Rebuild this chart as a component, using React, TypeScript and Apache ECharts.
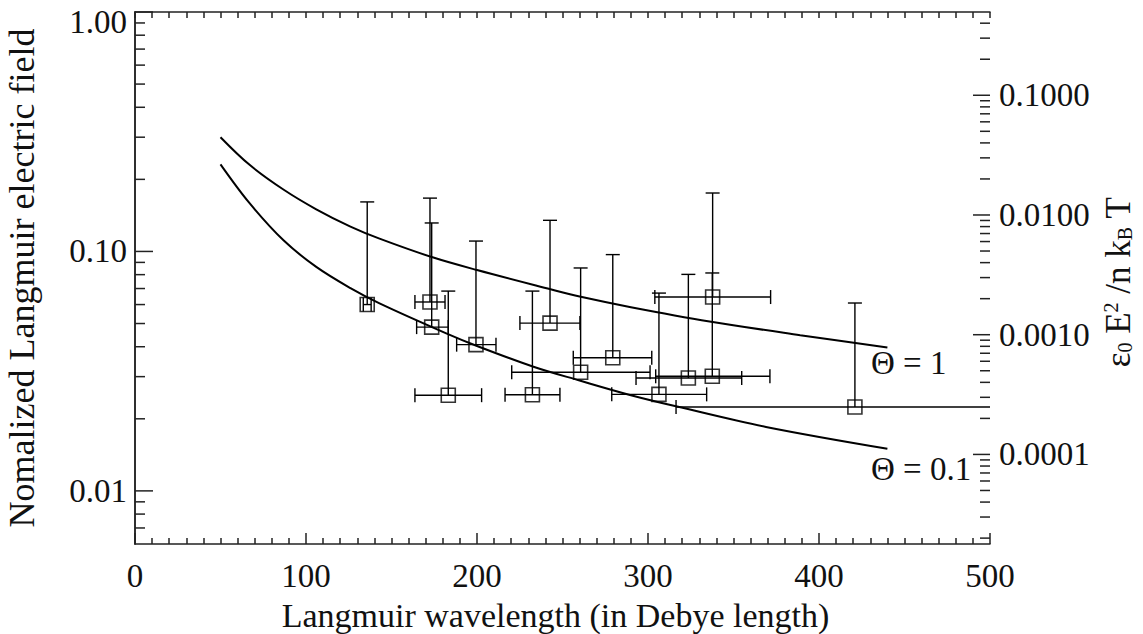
import React, { useEffect, useRef } from 'react';
import * as echarts from 'echarts';

const SERIF = '"Liberation Serif", "Times New Roman", Times, serif';

// Axis ranges
const X_MIN = 0;
const X_MAX = 500;
const X_STEP = 100;
const E_MIN = 0.006; // normalized field (left, log)
const E_MAX = 1.0;
const W_MIN = 1.786e-5; // eps0 E^2 / n kB T (right, log)
const W_MAX = 0.496;

// Theory curves
const theta1X = [50, 67, 87, 106, 126, 143, 174, 200, 243, 260, 290, 336, 389, 440];
const theta1Y = [0.3, 0.23, 0.181, 0.15, 0.127, 0.1131, 0.0945, 0.0836, 0.0695, 0.0648, 0.0585, 0.051, 0.0447, 0.0397];
const theta01X = [50, 67, 87, 106, 126, 143, 182, 200, 233, 260, 290, 317, 369, 440];
const theta01Y = [0.231, 0.159, 0.111, 0.0862, 0.0703, 0.0607, 0.0455, 0.0403, 0.033, 0.0289, 0.0251, 0.0225, 0.0185, 0.015];

// Observations
const obsX = [135.8, 172.5, 173.5, 183.2, 199.4, 232.4, 242.7, 260.6, 279.4, 306.4, 323.6, 337.6, 337.8, 421.0];
const obsY = [0.06, 0.0615, 0.0483, 0.0251, 0.0408, 0.0252, 0.0502, 0.0313, 0.036, 0.0253, 0.0296, 0.0301, 0.0645, 0.0224];
const obsYHigh = [0.161, 0.167, 0.1315, 0.0683, 0.1105, 0.0683, 0.1349, 0.0853, 0.097, 0.067, 0.0802, 0.0813, 0.1754, 0.0609];
const obsXLow = [133.5, 163.7, 164.7, 163.7, 188.1, 216.4, 225.1, 220.3, 256.3, 278.8, 293.0, 304.5, 304.0, 316.4];
const obsXHigh = [138.1, 181.3, 183.2, 202.7, 211.1, 248.5, 260.2, 301.2, 302.2, 334.3, 354.8, 371.3, 371.7, 530];

// Log tick values
const leftMajorTicks = [0.01, 0.1, 1];
const leftMinorTicks = [0.007, 0.008, 0.009, 0.02, 0.03, 0.04, 0.05, 0.06, 0.07, 0.08, 0.09, 0.2, 0.3, 0.4, 0.5, 0.6, 0.7, 0.8, 0.9];
const rightMajorTicks = [0.0001, 0.001, 0.01, 0.1];
const rightMinorTicks = [
  0.00002, 0.00003, 0.00004, 0.00005, 0.00006, 0.00007, 0.00008, 0.00009,
  0.0002, 0.0003, 0.0004, 0.0005, 0.0006, 0.0007, 0.0008, 0.0009,
  0.002, 0.003, 0.004, 0.005, 0.006, 0.007, 0.008, 0.009,
  0.02, 0.03, 0.04, 0.05, 0.06, 0.07, 0.08, 0.09,
  0.2, 0.3, 0.4,
];

const curveLabels = ['Θ = 1', 'Θ = 0.1'];

const INK = '#111';
const AX = '#222';

function isDecade(v: number) {
  const l = Math.log10(v);
  return Math.abs(l - Math.round(l)) < 1e-6;
}

export default function App() {
  const ref = useRef<HTMLDivElement>(null);

  useEffect(() => {
    if (!ref.current) return;
    const chart = echarts.init(ref.current, undefined, { renderer: 'svg' });

    const lineStyle = { stroke: '#000', lineWidth: 1.4 };

    const errorBars = (params: any, api: any) => {
      const x = api.value(0);
      const y = api.value(1);
      const p = api.coord([x, y]);
      const top = api.coord([x, api.value(2)]);
      const l = api.coord([api.value(3), y]);
      const r = api.coord([api.value(4), y]);
      const cap = 7;
      return {
        type: 'group',
        children: [
          { type: 'line', shape: { x1: p[0], y1: p[1], x2: top[0], y2: top[1] }, style: lineStyle },
          { type: 'line', shape: { x1: top[0] - cap, y1: top[1], x2: top[0] + cap, y2: top[1] }, style: lineStyle },
          { type: 'line', shape: { x1: l[0], y1: l[1], x2: r[0], y2: r[1] }, style: lineStyle },
          { type: 'line', shape: { x1: l[0], y1: l[1] - cap, x2: l[0], y2: l[1] + cap }, style: lineStyle },
          { type: 'line', shape: { x1: r[0], y1: r[1] - cap, x2: r[0], y2: r[1] + cap }, style: lineStyle },
        ],
      };
    };

    const tickRenderer = (dx: number) => (params: any, api: any) => {
      const p = api.coord([api.value(0), api.value(1)]);
      return {
        type: 'line',
        shape: { x1: p[0], y1: p[1], x2: p[0] + dx, y2: p[1] },
        style: { stroke: AX, lineWidth: 1.5 },
      };
    };

    const tickSeries = (values: number[], xVal: number, yAxisIndex: number, dx: number, name: string) => ({
      type: 'custom',
      name,
      renderItem: tickRenderer(dx),
      encode: { x: 0, y: 1 },
      yAxisIndex,
      data: values.map((v) => [xVal, v]),
      silent: true,
      z: 6,
    });

    const xAxisBase = {
      type: 'value',
      min: X_MIN,
      max: X_MAX,
      interval: X_STEP,
      axisLine: { show: true, lineStyle: { color: AX, width: 1.5 } },
      axisTick: { show: true, inside: true, length: 11, lineStyle: { color: AX, width: 1.5 } },
      minorTick: { show: true, splitNumber: 10, length: 6, lineStyle: { color: AX, width: 1.5 } },
      splitLine: { show: false },
      minorSplitLine: { show: false },
    };

    chart.setOption({
      animation: false,
      backgroundColor: '#fff',
      grid: { left: 135, right: 153, top: 12, bottom: 90, containLabel: false, outerBoundsMode: 'none' },
      xAxis: [
        {
          ...xAxisBase,
          position: 'bottom',
          axisLabel: { show: true, fontFamily: SERIF, fontSize: 33, color: INK, margin: 15 },
          name: 'Langmuir wavelength (in Debye length)',
          nameLocation: 'middle',
          nameGap: 54,
          nameTextStyle: { fontFamily: SERIF, fontSize: 34, color: INK, padding: [0, 14, 0, 0] },
        },
        {
          ...xAxisBase,
          position: 'top',
          axisTick: { show: true, inside: true, length: 6, lineStyle: { color: AX, width: 1.5 } },
          axisLabel: { show: false },
        },
      ],
      yAxis: [
        {
          type: 'log',
          logBase: 10,
          position: 'left',
          min: E_MIN,
          max: E_MAX,
          axisLine: { show: true, lineStyle: { color: AX, width: 1.5 } },
          axisTick: { show: false },
          minorTick: { show: false },
          splitLine: { show: false },
          axisLabel: {
            fontFamily: SERIF,
            fontSize: 33,
            color: INK,
            margin: 8,
            formatter: (v: number) => {
              if (!isDecade(v)) return '';
              if (Math.round(Math.log10(v)) === 0) return '{t|1.00}';
              return v.toFixed(2);
            },
            rich: {
              t: { fontFamily: SERIF, fontSize: 33, color: INK, padding: [20, 0, 0, 0] },
            },
          },
          name: 'Nomalized Langmuir electric field',
          nameLocation: 'middle',
          nameGap: 95,
          nameRotate: 90,
          nameTextStyle: { fontFamily: SERIF, fontSize: 36, color: INK },
        },
        {
          type: 'log',
          logBase: 10,
          position: 'right',
          min: W_MIN,
          max: W_MAX,
          axisLine: { show: true, lineStyle: { color: AX, width: 1.5 } },
          axisTick: { show: false },
          minorTick: { show: false },
          splitLine: { show: false },
          axisLabel: {
            fontFamily: SERIF,
            fontSize: 33,
            color: INK,
            margin: 9,
            formatter: (v: number) => (isDecade(v) ? v.toFixed(4) : ''),
          },
        },
      ],
      graphic: [
        {
          type: 'text',
          left: 871,
          top: 346,
          style: { text: curveLabels[0], font: `33px ${SERIF}`, fill: INK },
        },
        {
          type: 'text',
          left: 871,
          top: 452,
          style: { text: curveLabels[1], font: `33px ${SERIF}`, fill: INK },
        },
        {
          type: 'text',
          x: 1118,
          y: 282,
          rotation: Math.PI / 2,
          style: {
            text: '{m|ε}{sb|0}{m| E}{sp|2}{m| /n k}{sb|B}{m| T}',
            align: 'center',
            verticalAlign: 'middle',
            fill: INK,
            rich: {
              m: { fontFamily: SERIF, fontSize: 35, lineHeight: 34, fill: INK, color: INK },
              sp: { fontFamily: SERIF, fontSize: 20, lineHeight: 24, verticalAlign: 'top', fill: INK, color: INK },
              sb: { fontFamily: SERIF, fontSize: 20, lineHeight: 12, verticalAlign: 'bottom', fill: INK, color: INK },
            },
          },
        },
      ],
      series: [
        {
          type: 'line',
          name: curveLabels[0],
          data: theta1X.map((x, i) => [x, theta1Y[i]]),
          showSymbol: false,
          symbol: 'none',
          smooth: 0.35,
          lineStyle: { color: '#000', width: 2 },
          z: 3,
        },
        {
          type: 'line',
          name: curveLabels[1],
          data: theta01X.map((x, i) => [x, theta01Y[i]]),
          showSymbol: false,
          symbol: 'none',
          smooth: 0.35,
          lineStyle: { color: '#000', width: 2 },
          z: 3,
        },
        {
          type: 'custom',
          name: 'error bars',
          renderItem: errorBars,
          clip: true,
          encode: { x: 0, y: 1 },
          data: obsX.map((x, i) => [x, obsY[i], obsYHigh[i], obsXLow[i], obsXHigh[i]]),
          z: 4,
        },
        {
          type: 'scatter',
          name: 'observations',
          data: obsX.map((x, i) => [x, obsY[i]]),
          symbol: 'rect',
          symbolSize: 14,
          itemStyle: { color: 'rgba(0,0,0,0)', borderColor: '#000', borderWidth: 1.6 },
          z: 5,
        },
        tickSeries(leftMajorTicks, X_MIN, 0, 18, 'left major ticks'),
        tickSeries(leftMinorTicks, X_MIN, 0, 10, 'left minor ticks'),
        tickSeries(rightMajorTicks, X_MAX, 1, -17, 'right major ticks'),
        tickSeries(rightMinorTicks, X_MAX, 1, -10, 'right minor ticks'),
      ],
    });

    return () => chart.dispose();
  }, []);

  return (
    <div
      ref={ref}
      style={{ position: 'fixed', left: 0, top: 0, width: 1143, height: 634, background: '#fff' }}
    />
  );
}
